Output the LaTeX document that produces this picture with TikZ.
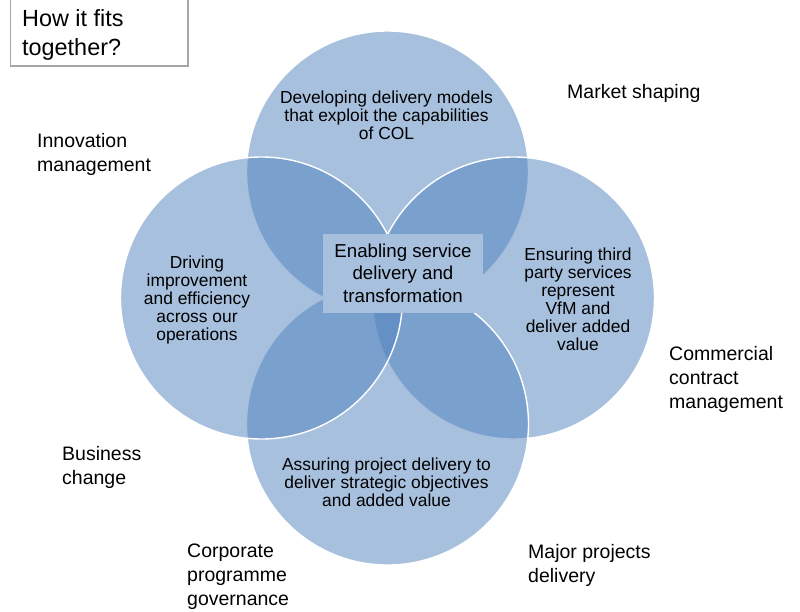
\documentclass[tikz,border=0pt]{standalone}
\usepackage{fontspec}
\setmainfont{Liberation Sans}
\definecolor{vennblue}{HTML}{4F81BD}
\definecolor{boxblue}{HTML}{A7C0DE}
\definecolor{framegray}{HTML}{A6A6A6}
\begin{document}
\begin{tikzpicture}[x=1pt,y=-1pt,
  venn/.style={circle, minimum size=282pt, inner sep=0pt, fill=vennblue,
    fill opacity=0.5, draw=white, draw opacity=1, line width=1.4pt},
  inner/.style={align=center, inner sep=0pt, anchor=base,
    font=\fontsize{17.4}{18}\selectfont},
  outer/.style={align=left, inner sep=0pt, anchor=base west,
    font=\fontsize{19.5}{24}\selectfont},
  hub/.style={rectangle, fill=boxblue, inner sep=0pt},
  titlebox/.style={draw=framegray, line width=1.3pt, fill=white}
]
\useasboundingbox (0,0) rectangle (800,611);

% title frame (anchored at the baseline of its last line)
\draw[titlebox] (10.5,-3) rectangle (188,66);
\node[outer, font=\fontsize{23.4}{29}\selectfont] (title) at (22,55) {How it fits\\together?};

% the four overlapping circles
\node[venn] (ctop)    at (387.5,172) {};
\node[venn] (cright)  at (513.5,298) {};
\node[venn] (cbottom) at (387.5,424) {};
\node[venn] (cleft)   at (261.5,298) {};

% central box
\node[hub, minimum width=160pt, minimum height=79pt] (hubbox) at (403,273.5) {};
\node[inner, font=\fontsize{18.7}{22.5}\selectfont] (hubtext) at (403,302)
  {Enabling service\\delivery and\\transformation};

% texts inside the circles
\node[inner] (ttop) at (386.5,139)
  {Developing delivery models\\that exploit the capabilities\\of COL};
\node[inner] (tleft) at (197,340)
  {Driving\\improvement\\and efficiency\\across our\\operations};
\node[inner] (tright) at (578,350)
  {Ensuring third\\party services\\represent\\VfM and\\deliver added\\value};
\node[inner] (tbottom) at (386.5,506)
  {Assuring project delivery to\\deliver strategic objectives\\and added value};

% surrounding labels
\node[outer] (lmarket) at (567,98) {Market shaping};
\node[outer] (linnov) at (37,171) {Innovation\\management};
\node[outer] (lcomm) at (669,408) {Commercial\\contract\\management};
\node[outer] (lbiz) at (62,484) {Business\\change};
\node[outer] (lcorp) at (187,605) {Corporate\\programme\\governance};
\node[outer] (lmajor) at (528,582) {Major projects\\delivery};
\end{tikzpicture}
\end{document}
